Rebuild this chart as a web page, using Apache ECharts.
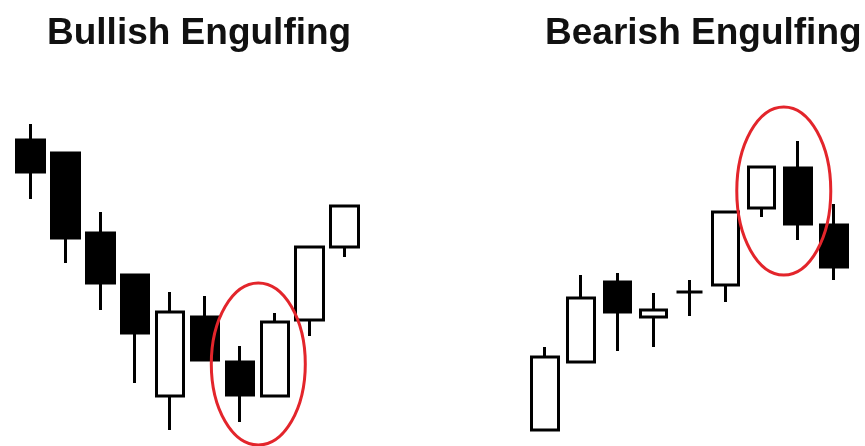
<!DOCTYPE html>
<html>
<head>
<meta charset="utf-8">
<title>Engulfing patterns</title>
<script src="https://cdn.jsdelivr.net/npm/echarts@6/dist/echarts.min.js"></script>
<style>
  html, body { margin: 0; padding: 0; background: #fff; }
  #chart { width: 865px; height: 446px; }
</style>
</head>
<body>
<div id="chart"></div>
<script>
// bullish engulfing: downtrend, then a white candle swallows the last black one
const bullDays = ['1', '2', '3', '4', '5', '6', '7', '8', '9', '10']
const bullOpen = [306, 293, 213, 171, 50, 129, 84, 50, 126, 199]
const bullClose = [274, 208, 163, 113, 134, 86, 51, 124, 199, 240]
const bullLow = [247, 183, 136, 63, 16, 86, 24, 50, 110, 189]
const bullHigh = [322, 293, 234, 171, 154, 150, 100, 133, 199, 240]

// bearish engulfing: uptrend, then a black candle swallows the last white one
const bearDays = ['1', '2', '3', '4', '5', '6', '7', '8', '9']
const bearOpen = [16, 84, 164, 129, 154, 161, 238, 278, 221]
const bearClose = [89, 148, 134, 136, 154, 234, 279, 222, 179]
const bearLow = [16, 84, 95, 99, 130, 144, 229, 206, 166]
const bearHigh = [99, 171, 173, 153, 166, 234, 279, 305, 242]

// the two candles that make up each pattern (index of first one) and where the ring sits
const bullPattern = { first: 6, second: 7, value: 82 }
const bearPattern = { first: 6, second: 7, value: 255 }

const titles = ['Bullish Engulfing', 'Bearish Engulfing']

function ohlc(open, close, low, high) {
  return open.map((o, i) => [o, close[i], low[i], high[i]])
}

const candleStyle = {
  color: '#ffffff',
  color0: '#000000',
  borderColor: '#000000',
  borderColor0: '#000000',
  borderColorDoji: '#000000',
  borderWidth: 3,
}

const titleFont = { fontFamily: 'Liberation Sans, Arial, sans-serif', fontSize: 37, fontWeight: 'bold', color: '#111' }

const chart = echarts.init(document.getElementById('chart'))

const option = {
  animation: false,
  backgroundColor: '#fff',
  title: [
    { text: titles[0], left: 47, top: 15, padding: 0, textStyle: titleFont },
    { text: titles[1], left: 545, top: 15, padding: 0, textStyle: titleFont },
  ],
  grid: [
    { left: 13, top: 0, width: 349, height: 446 },
    { left: 527, top: 0, width: 325, height: 446 },
  ],
  xAxis: [
    { type: 'category', gridIndex: 0, data: bullDays, show: false },
    { type: 'category', gridIndex: 1, data: bearDays, show: false },
  ],
  yAxis: [
    { type: 'value', gridIndex: 0, min: 0, max: 446, show: false },
    { type: 'value', gridIndex: 1, min: 0, max: 446, show: false },
  ],
  series: [
    {
      name: 'bullish',
      type: 'candlestick',
      xAxisIndex: 0,
      yAxisIndex: 0,
      barWidth: 28,
      itemStyle: candleStyle,
      data: ohlc(bullOpen, bullClose, bullLow, bullHigh),
    },
    {
      name: 'bearish',
      type: 'candlestick',
      xAxisIndex: 1,
      yAxisIndex: 1,
      barWidth: 27,
      itemStyle: candleStyle,
      data: ohlc(bearOpen, bearClose, bearLow, bearHigh),
    },
  ],
}

chart.setOption(option)

// red rings around the pattern candles, placed from the data coordinates
function ring(gridIndex, pattern, days, rx, ry, shift) {
  const a = chart.convertToPixel({ gridIndex: gridIndex }, [days[pattern.first], pattern.value])
  const b = chart.convertToPixel({ gridIndex: gridIndex }, [days[pattern.second], pattern.value])
  return {
    type: 'ellipse',
    shape: { cx: (a[0] + b[0]) / 2 + shift, cy: a[1], rx: rx, ry: ry },
    style: { fill: null, stroke: '#e3252b', lineWidth: 3 },
    z: 10,
  }
}

chart.setOption({
  graphic: [
    ring(0, bullPattern, bullDays, 47, 81, 1),
    ring(1, bearPattern, bearDays, 47, 84, 4),
  ],
})
</script>
</body>
</html>
